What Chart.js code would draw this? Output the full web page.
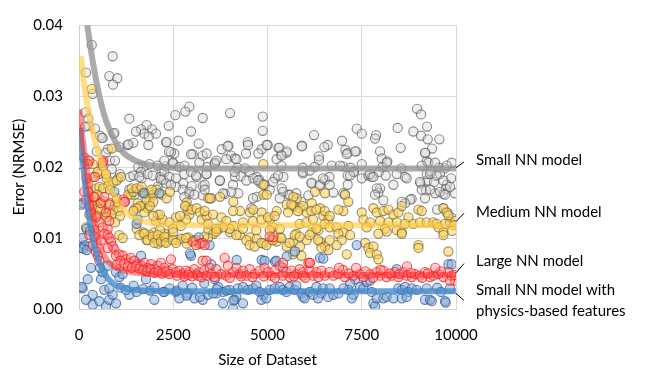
<!DOCTYPE html>
<html lang="en">
<head>
<meta charset="UTF-8">
<title>Error vs Size of Dataset</title>
<script src="https://cdn.jsdelivr.net/npm/chart.js"></script>
<style>
  html, body { margin: 0; padding: 0; background: #fff; }
</style>
</head>
<body>
<canvas id="chart" width="659" height="383"></canvas>
<script>
// scatter points, [size, NRMSE]
const smallPts = [
  [338,.0372],[893,.0356],[186,.0333],[805,.0328],[1017,.0325],[902,.0316],[363,.0303],[167,.0277],[2927,.0285],[2820,.0278],
  [4006,.0276],[2555,.0273],[3281,.0269],[4873,.0271],[1335,.0268],[2378,.0258],[1796,.0259],[1645,.0253],[1937,.0253],[1733,.0247],
  [2043,.0247],[1848,.0243],[1512,.0250],[2971,.0250],[4873,.0251],[257,.0258],[424,.0254],[557,.0244],[629,.0241],[920,.0247],
  [2308,.0235],[2635,.0237],[3175,.0233],[1839,.0231],[1070,.0228],[1291,.0231],[1441,.0234],[769,.0225],[3962,.0230],[3785,.0225],
  [4475,.0235],[4483,.0231],[4846,.0225],[2529,.0219],[2440,.0221],[3016,.0218],[3281,.0216],[4033,.0216],[4431,.0219],
  [8967,.0282],[9073,.0274],[8454,.0255],[9232,.0257],[8869,.0250],[9073,.0244],[9250,.0239],[9559,.0239],[9365,.0226],[9188,.0220],
  [7367,.0254],[7500,.0247],[7880,.0245],[7853,.0240],[8533,.0227],[6977,.0237],[6234,.0245],[5916,.0230],[6597,.0231],[6508,.0228],
  [5290,.0227],[5502,.0220],[5360,.0217],[5006,.0231],[7066,.0224],[7127,.0220],[7349,.0222],[7986,.0222],[6359,.0215],
  [6367,.0210],[8029,.0212],[8179,.0208],[9223,.0208],[5940,.0199],[6250,.0200],[7000,.0201],[7200,.0199],[8050,.0200],[8550,.0198],
  [9550,.0199],[9700,.0198],[4200,.0199],[3400,.0200],
  [5934,.0191],[6173,.0178],[6393,.0173],[6526,.0182],[6641,.0186],[6747,.0164],[7127,.0188],[7127,.0175],[7296,.0193],[7500,.0184],
  [7676,.0188],[7765,.0186],[7959,.0193],[8136,.0188],[7986,.0170],[7941,.0164],[8648,.0186],[9064,.0177],[9241,.0181],[9223,.0190],
  [9339,.0194],[9418,.0179],[9577,.0190],[9869,.0184],[9754,.0175],[9727,.0169],[9665,.0162],[9975,.0163],[9444,.0163],[9206,.0167],
  [8824,.0155],[8073,.0153],[6083,.0160],
  [159,.0257],[247,.0268],[602,.0241],[469,.0222],[716,.0220],[822,.0209],[937,.0248],[1308,.0232],[2325,.0235],[3944,.0229],
  [4979,.0231],[5315,.0227],[5510,.0222],[5908,.0229],[2388,.0222],[2971,.0218],[3387,.0219],[4138,.0212],[4757,.0219],[5242,.0211],
  [5377,.0216],[2502,.0205],[2193,.0195],[2300,.0201],[1706,.0200],[1573,.0200],[2149,.0186],[2237,.0182],[1353,.0186],[1441,.0188],
  [1661,.0184],[1087,.0190],[1043,.0184],[867,.0197],[955,.0209],[2767,.0177],[2988,.0173],[3120,.0186],[3387,.0190],[3607,.0206],
  [3281,.0173],[3740,.0181],[4138,.0186],[4289,.0187],[4404,.0198],[4713,.0186],[4783,.0182],[4819,.0177],[3873,.0162],[3281,.0160],
  [2927,.0162],[4227,.0163],[4713,.0158],[5200,.0184],[5421,.0186],[5377,.0170],[5553,.0161],
  [53,.0204],[141,.0213],[1865,.0204],[2086,.0202],[2264,.0209],[2485,.0206],[2661,.0200],[2793,.0202],[3192,.0206],[1645,.0193],
  [1600,.0186],[1821,.0190],[1954,.0188],[2264,.0193],[2396,.0186],[2573,.0184],[2793,.0190],[2971,.0193],[3104,.0188],[2175,.0182],
  [2308,.0177],[2086,.0172],[2573,.0172],[2440,.0175],[2750,.0168],[2927,.0165],[3059,.0161],[2793,.0158],[1335,.0168],[1467,.0161],
  [1689,.0165],[3599,.0204],[3643,.0209],[3909,.0211],[4174,.0211],[3378,.0190],[3732,.0181],[4130,.0193],[4086,.0175],[4528,.0193],
  [4616,.0184],[4439,.0181],[4749,.0181],[4926,.0175],[5058,.0168],[5279,.0188],[5146,.0179],[5367,.0202],[5412,.0165],[5590,.0161],
  [5766,.0163],[5943,.0193],[6120,.0195],[6164,.0177],[6386,.0175],[6474,.0184],[6651,.0175],[5898,.0151],[5678,.0145],[5325,.0156],
  [4616,.0156],[4572,.0142],[4041,.0165],[3820,.0163],[3333,.0175],[3333,.0168],[3510,.0156],
  [7101,.0218],[7322,.0222],[8162,.0206],[9179,.0220],[9268,.0206],[9444,.0206],[9887,.0206],[6703,.0202],[6924,.0202],[7500,.0204],
  [9091,.0202],[9754,.0202],[7279,.0193],[7190,.0188],[7720,.0190],[7809,.0186],[8428,.0190],[8692,.0184],[9045,.0179],[9311,.0190],
  [9488,.0188],[9665,.0181],[9842,.0172],[9091,.0168],[9311,.0168],[9577,.0165],[9710,.0161],[7012,.0163],[7057,.0161],[7898,.0170],
  [7853,.0161],[8781,.0154],[8648,.0149],[8559,.0151],[9179,.0156],[9665,.0142],[8339,.0175],[9780,.0135],[9900,.0128],[9500,.0140]
];
const mediumPts = [
  [337,.0310],[867,.0226],[247,.0209],[513,.0190],[734,.0184],[778,.0174],[911,.0179],[999,.0181],[247,.0177],[469,.0170],
  [380,.0186],[1618,.0168],[1883,.0161],[2857,.0150],[3431,.0156],[4890,.0204],[4890,.0175],[4890,.0161],[5775,.0156],
  [363,.0204],[496,.0193],[629,.0202],[716,.0190],[1114,.0186],[540,.0172],[496,.0161],[407,.0151],[363,.0145],[584,.0142],
  [672,.0133],[805,.0136],[451,.0129],[274,.0133],[186,.0115],[407,.0111],
  [1379,.0161],[1556,.0149],[1689,.0145],[1822,.0142],[1467,.0140],[1733,.0136],[2087,.0133],[2042,.0124],[1865,.0151],[2218,.0126],
  [1954,.0165],[2839,.0145],[2883,.0140],[2927,.0133],[2839,.0126],[2573,.0129],[2396,.0122],[2485,.0113],[2706,.0117],[1998,.0108],
  [2264,.0106],[645,.0170],[822,.0168],[380,.0158],[557,.0149],[645,.0152],[822,.0149],[955,.0147],[1000,.0156],[911,.0140],
  [1043,.0138],[1087,.0131],[867,.0133],[734,.0129],[955,.0122],[557,.0140],[469,.0131],
  [1308,.0161],[1441,.0165],[1397,.0170],[1750,.0163],[1794,.0154],[1971,.0161],[2060,.0168],[1971,.0151],[1883,.0145],[1618,.0145],
  [1529,.0142],[1441,.0138],[1529,.0113],[1706,.0108],[1883,.0104],[1794,.0097],[2060,.0097],[2104,.0092],[2281,.0095],[2326,.0101],
  [2149,.0111],[2502,.0108],[2591,.0097],[2724,.0099],[2900,.0101],[3033,.0097],[2857,.0092],[3210,.0092],[3431,.0111],[3564,.0106],
  [3697,.0113],[4006,.0108],[4094,.0117],[4271,.0104],[4536,.0101],[4713,.0099],[4889,.0092],[5111,.0097],[5244,.0095],[5332,.0101],
  [5509,.0088],[5686,.0095],[5862,.0088],[6039,.0097],[6172,.0108],[6349,.0111],[6393,.0095],[6526,.0088],[6614,.0083],
  [1529,.0170],[1661,.0172],[1926,.0168],[2193,.0161],[2326,.0156],[2414,.0165],[2812,.0145],[2988,.0140],[3120,.0142],[3210,.0136],
  [3253,.0126],[3386,.0131],[3475,.0156],[3740,.0158],[4094,.0151],[4271,.0138],[4536,.0136],[4624,.0140],[4846,.0136],[4979,.0161],
  [5067,.0126],[5244,.0138],[5509,.0147],[5686,.0145],[5862,.0142],[6039,.0136],[6172,.0149],[6393,.0142],[6481,.0131],[6614,.0126],
  [6260,.0165],[5686,.0158],[6526,.0163],[2679,.0131],[2149,.0133],[1971,.0131],
  [5633,.0147],[5943,.0145],[6163,.0138],[6296,.0140],[6519,.0138],[6651,.0131],[5810,.0138],[5544,.0136],[3332,.0138],[3553,.0133],
  [3775,.0129],[3908,.0124],[4086,.0138],[4351,.0122],[4616,.0124],[4837,.0126],[5014,.0129],[5191,.0131],[5146,.0115],[5325,.0113],
  [5058,.0111],[4704,.0111],[4351,.0113],[3997,.0113],[3820,.0115],[3643,.0113],[3422,.0120],[5854,.0120],[6030,.0122],[6208,.0126],
  [6296,.0113],[6518,.0120],[6651,.0115],[5766,.0106],
  [7057,.0161],[7145,.0151],[7012,.0138],[6880,.0140],[7500,.0136],[7809,.0142],[7898,.0136],[8074,.0138],[8207,.0140],[8340,.0133],
  [8473,.0136],[8562,.0145],[8739,.0129],[9004,.0140],[9092,.0138],[9666,.0142],[9754,.0136],[7545,.0126],[7721,.0122],[7987,.0124],
  [8207,.0122],[8429,.0122],[8649,.0120],[8870,.0120],[9045,.0122],[9222,.0122],[9400,.0122],[9488,.0120],[9710,.0120],[9842,.0122],
  [9980,.0124],[6836,.0115],[7145,.0117],[7012,.0108],[7634,.0115],[8117,.0113],[8429,.0111],[8562,.0108],[7942,.0106],[9533,.0115],
  [9666,.0108],[6880,.0106],[6969,.0097],[7190,.0104],[6836,.0090],[7101,.0077],[7588,.0093],[7677,.0086],[7810,.0088],[7721,.0079],
  [7898,.0077],[7942,.0070],[8163,.0109],[8562,.0106],[9004,.0090],[9004,.0086],[9666,.0104],[9798,.0081],
  [3422,.0100],[3643,.0109],[4174,.0104],[4439,.0097],[4528,.0090],[4660,.0088],[4837,.0093],[4970,.0090],[5146,.0097],[5368,.0100],
  [5589,.0093],[5722,.0104],[5854,.0102],[6120,.0104],[6341,.0097],[6429,.0086],[6651,.0097],[5678,.0077],[5899,.0075],
  [1070,.0104],[1158,.0100],[1600,.0104],[1733,.0106],[1822,.0097],[1954,.0102],[1998,.0093],[2087,.0104],[2175,.0095],[2264,.0102],
  [2308,.0093],[2485,.0097],[2573,.0093],[2839,.0100],[3104,.0097],[3324,.0102],[9950,.0118],[9900,.0110],[9800,.0132]
];
const largePts = [
  [274,.0209],[646,.0209],[424,.0186],[204,.0184],[407,.0158],[1176,.0154],[247,.0165],[1220,.0151],[3210,.0092],[5155,.0101],
  [6083,.0065],[141,.0165],[186,.0154],[274,.0145],[318,.0136],[451,.0129],[540,.0122],[628,.0115],[761,.0113],[805,.0124],
  [716,.0136],[584,.0149],[672,.0158],[805,.0147],[1202,.0151],[628,.0206],[230,.0204],
  [274,.0104],[363,.0090],[451,.0081],[496,.0075],[540,.0068],[407,.0102],[584,.0097],[672,.0106],[761,.0104],[805,.0100],
  [849,.0095],[894,.0088],[938,.0084],[761,.0086],[982,.0075],[1070,.0077],[1158,.0075],[1247,.0070],[1335,.0065],[1379,.0072],
  [1467,.0068],[1556,.0063],[1645,.0061],[1733,.0065],[1822,.0058],[1910,.0063],[1998,.0056],[2087,.0061],[2175,.0065],[2264,.0058],
  [2352,.0054],[2441,.0070],[2485,.0056],[2573,.0052],[2661,.0054],[2750,.0049],[2839,.0054],[2927,.0052],[3059,.0056],[3192,.0052],
  [3324,.0054],[3015,.0095],[3104,.0090],[3280,.0093],[3280,.0068],
  [1000,.0062],[1100,.0068],[1200,.0064],[1300,.0060],[1400,.0058],[1500,.0060],[1600,.0057],[1700,.0055],[1800,.0053],[1900,.0056],
  [2000,.0051],[2100,.0053],[2200,.0050],[2300,.0052],[2400,.0049],[2600,.0047],[2800,.0046],[2900,.0048],[3000,.0046],[3150,.0047],
  [3250,.0045],[3400,.0047],
  [3333,.0090],[3377,.0068],[3466,.0058],[3643,.0056],[3776,.0049],[3864,.0072],[3952,.0061],[4085,.0052],[4174,.0058],[4262,.0049],
  [4350,.0054],[4527,.0056],[4660,.0049],[4793,.0054],[4925,.0058],[5014,.0052],[5058,.0102],[5103,.0047],[5191,.0054],[5324,.0061],
  [5412,.0065],[5501,.0052],[5634,.0054],[5766,.0049],[5855,.0056],[5943,.0052],[6120,.0065],[6120,.0054],[6297,.0052],[6430,.0054],
  [6519,.0047],[6651,.0052],[3510,.0049],[4439,.0047],[5589,.0045],[5943,.0047],
  [3600,.0045],[3900,.0047],[4000,.0044],[4300,.0046],[4600,.0045],[4900,.0046],[5200,.0044],[5400,.0047],[5700,.0046],[6000,.0044],
  [6200,.0047],[6350,.0045],
  [6747,.0047],[6880,.0049],[7057,.0045],[7278,.0047],[7455,.0049],[7543,.0045],[7720,.0049],[7897,.0052],[7986,.0047],[8074,.0054],
  [8162,.0045],[8295,.0047],[8383,.0052],[8472,.0045],[8604,.0052],[8692,.0047],[8825,.0045],[8914,.0049],[9045,.0047],[9178,.0052],
  [9311,.0045],[9399,.0047],[9532,.0049],[9664,.0045],[9797,.0052],[9885,.0047],[9974,.0040],[9841,.0040],[6127,.0065],
  [7000,.0055],[7150,.0050],[7600,.0053],[7800,.0044],[8000,.0055],[8250,.0050],[8500,.0049],[8800,.0051],[9100,.0044],[9250,.0050],
  [9600,.0053],[9950,.0048],[7350,.0058],[8700,.0060],[9450,.0058],[6900,.0058]
];
const physicsPts = [
  [53,.0086],[141,.0090],[274,.0088],[97,.0100],[318,.0058],[230,.0042],[97,.0029],[363,.0020],[186,.0013],[363,.0006],
  [540,.0011],[716,.0004],[805,.0013],[894,.0020],[982,.0008],[672,.0027],[805,.0029],[584,.0042],[628,.0052],[761,.0061],
  [982,.0052],[1070,.0045],[1158,.0049],[1335,.0020],[1556,.0061],[1645,.0075],[1777,.0042],[1822,.0058],[1998,.0013],[2264,.0024],
  [2573,.0024],[2661,.0015],[2883,.0022],[2971,.0075],[3104,.0049],[3059,.0015],[3280,.0013],[3324,.0036],
  [115,.0085],[71,.0031],[97,.0149],[2131,.0163],[1556,.0126],[938,.0165],[1706,.0163],[71,.0147],[204,.0113],[292,.0110],
  [1529,.0120],[2945,.0078],[3174,.0101],[4182,.0069],[4845,.0069],[5199,.0067],[5509,.0074],[5730,.0081],[6393,.0072],[204,.0083],
  [557,.0058],
  [3466,.0090],[3510,.0063],[3599,.0042],[3687,.0031],[3643,.0022],[3422,.0020],[3820,.0024],[3997,.0027],[4173,.0017],[4129,.0013],
  [4217,.0029],[4350,.0031],[4483,.0027],[4616,.0029],[4704,.0033],[4793,.0024],[4881,.0020],[4837,.0013],[4970,.0015],[5058,.0027],
  [5191,.0029],[5324,.0031],[5412,.0027],[5501,.0024],[5589,.0031],[5722,.0027],[5766,.0033],[5899,.0022],[5943,.0017],[5987,.0015],
  [6120,.0024],[6297,.0031],[6430,.0022],[6474,.0029],[6651,.0029],[6607,.0017],[4085,.0001],[4925,.0068],[5234,.0068],[5412,.0058],
  [6208,.0020],[6341,.0015],[4350,.0008],[3820,.0008],
  [7367,.0090],[7323,.0042],[7190,.0036],[7146,.0027],[7279,.0020],[7235,.0015],[7455,.0031],[7544,.0029],[7632,.0038],[7720,.0040],
  [7764,.0024],[7809,.0008],[7853,.0004],[7898,.0015],[8074,.0015],[8162,.0017],[8339,.0015],[8428,.0056],[8472,.0029],[8561,.0027],
  [8649,.0031],[8737,.0024],[8825,.0029],[8958,.0027],[8561,.0015],[8693,.0017],[9223,.0029],[9179,.0013],[9311,.0013],[9710,.0011],
  [9798,.0063],[9842,.0029],[6747,.0020],[6880,.0022],[7013,.0029],[9885,.0063],[9727,.0009],[9355,.0011],[6480,.0071],
  [1529,.0024],[1883,.0026],[2237,.0024],[2591,.0026],[2856,.0019],[3210,.0017],[3564,.0022],[3652,.0028],[3917,.0026],[4094,.0012],
  [1100,.0030],[1250,.0027],[1450,.0033],[1700,.0028],[2000,.0031],[2400,.0029],[2750,.0033],[3000,.0030],[9500,.0030],[9600,.0024]
];

// trend curves, read at a few sizes
const smallFitX = [220, 300, 400, 500, 600, 700, 800, 1000, 1200, 1450, 1750, 2100, 2500, 3000, 4000, 10000];
const smallFitY = [.0400, .0370, .0338, .0310, .0287, .0268, .0254, .0232, .0219, .0210, .0204, .0201, .0199, .0198, .0198, .0198];
const mediumFitX = [50, 150, 300, 450, 600, 750, 900, 1100, 1300, 1600, 2000, 2500, 3500, 10000];
const mediumFitY = [.0356, .0312, .0265, .0232, .0205, .0182, .0163, .0146, .0134, .0125, .0121, .0119, .0118, .0118];
const largeFitX = [10, 100, 200, 300, 400, 500, 600, 750, 1000, 1300, 1700, 2200, 3000, 10000];
const largeFitY = [.0281, .0238, .0195, .0158, .0127, .0100, .0082, .0068, .0058, .0053, .0050, .0049, .0048, .0048];
const physicsFitX = [30, 100, 160, 250, 350, 450, 560, 700, 820, 1000, 1300, 1700, 2500, 10000];
const physicsFitY = [.0255, .0210, .0177, .0135, .0103, .0080, .0063, .0048, .0040, .0033, .0028, .0026, .0025, .0025];

const yTicks = [0, 0.01, 0.02, 0.03, 0.04];
const xTicks = [0, 2500, 5000, 7500, 10000];

// side labels: text lines, value where the leader starts, value of text centre
const sideText = [['Small NN model'], ['Medium NN model'], ['Large NN model'], ['Small NN model with', 'physics-based features']];
const sideFrom = [0.0199, 0.0123, 0.0051, 0.0022];
const sideTo = [0.0207, 0.0135, 0.0064, 0.0012];
const sideTextY = [0.0210, 0.0136, 0.0067, 0.0026];

const FONT = 'Lato, "Open Sans", sans-serif';

const pts = arr => arr.map(p => ({ x: p[0], y: p[1] }));
const curve = (xs, ys) => xs.map((x, i) => ({ x: x, y: ys[i] }));

function pointSet(data, fill, edge, order) {
  return {
    data: pts(data), showLine: false, order: order,
    pointRadius: 4.6, pointBorderWidth: 1.1,
    backgroundColor: fill, borderColor: edge
  };
}
function lineSet(xs, ys, color, width, order) {
  return {
    data: curve(xs, ys), showLine: true, order: order,
    pointRadius: 0, borderColor: color, borderWidth: width,
    cubicInterpolationMode: 'monotone', fill: false
  };
}

const sideLabels = {
  id: 'sideLabels',
  afterDraw(chart) {
    const ctx = chart.ctx, y = chart.scales.y, right = chart.chartArea.right;
    ctx.save();
    ctx.font = '15px ' + FONT;
    ctx.fillStyle = '#000';
    ctx.strokeStyle = '#000';
    ctx.lineWidth = 1;
    ctx.textBaseline = 'middle';
    sideText.forEach((lines, i) => {
      ctx.beginPath();
      ctx.moveTo(right, y.getPixelForValue(sideFrom[i]));
      ctx.lineTo(right + 8, y.getPixelForValue(sideTo[i]));
      ctx.stroke();
      const ty = y.getPixelForValue(sideTextY[i]);
      lines.forEach((t, j) => ctx.fillText(t, right + 20, ty + j * 21));
    });
    ctx.restore();
  }
};

new Chart(document.getElementById('chart'), {
  type: 'scatter',
  data: {
    datasets: [
      lineSet(smallFitX, smallFitY, 'rgba(150,150,150,0.8)', 6, 1),
      lineSet(mediumFitX, mediumFitY, 'rgba(255,205,70,0.65)', 6, 1),
      lineSet(largeFitX, largeFitY, 'rgba(255,40,40,0.5)', 6, 1),
      lineSet(physicsFitX, physicsFitY, 'rgba(70,140,205,0.8)', 6, 1),
      pointSet(largePts, 'rgba(255,130,130,0.4)', 'rgba(255,20,20,0.75)', 2),
      pointSet(physicsPts, 'rgba(130,170,215,0.5)', 'rgba(40,80,140,0.7)', 3),
      pointSet(mediumPts, 'rgba(255,210,90,0.6)', 'rgba(110,100,60,0.7)', 4),
      pointSet(smallPts, 'rgba(215,215,215,0.4)', 'rgba(90,90,90,0.7)', 5)
    ]
  },
  options: {
    responsive: false,
    animation: false,
    layout: { padding: { left: 0, right: 203, top: 17, bottom: 0 } },
    plugins: { legend: { display: false }, tooltip: { enabled: false } },
    scales: {
      x: {
        type: 'linear', min: 0, max: 10000,
        afterBuildTicks: s => { s.ticks = xTicks.map(v => ({ value: v })); },
        afterFit: s => { s.height = 74; },
        grid: { color: '#d9d9d9', drawTicks: false },
        border: { color: '#d0d0d0' },
        ticks: { color: '#000', padding: 17, callback: v => String(v), font: { family: FONT, size: 15 } },
        title: { display: true, text: 'Size of Dataset', color: '#000',
                 padding: { top: 0, bottom: 14 }, font: { family: FONT, size: 15 } }
      },
      y: {
        min: 0, max: 0.04,
        afterBuildTicks: s => { s.ticks = yTicks.map(v => ({ value: v })); },
        afterFit: s => { s.width = 79; },
        grid: { color: '#d9d9d9', drawTicks: false },
        border: { color: '#d0d0d0' },
        ticks: { color: '#000', padding: 16, callback: v => v.toFixed(2), font: { family: FONT, size: 15 } },
        title: { display: true, text: 'Error (NRMSE)', color: '#000',
                 padding: { top: 10, bottom: 0 }, font: { family: FONT, size: 15 } }
      }
    }
  },
  plugins: [sideLabels]
});
</script>
</body>
</html>
